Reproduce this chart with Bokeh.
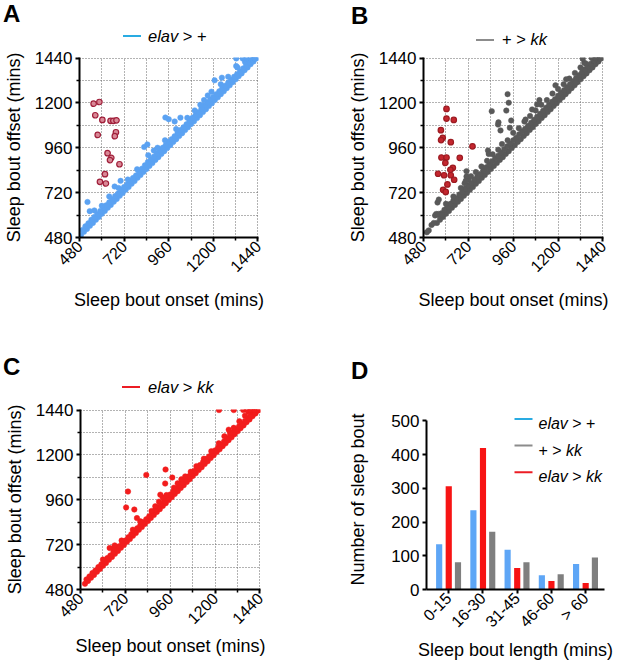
import math
from bokeh.plotting import figure
from bokeh.layouts import column, row
from bokeh.models import FixedTicker, Div
from bokeh.core.properties import value
from bokeh.embed import file_html
from bokeh.resources import INLINE

FONT = "Liberation Sans"

# ---------------- data (onset, offset) in minutes ----------------
a_band_low = [(488,494),(504,511),(520,526),(536,543),(552,558),(568,575),(584,590),(600,607),(616,622),(632,639),(648,654),(664,671),(680,686),(696,703),(712,718),(728,735),(744,750),(760,767),(776,782),(792,799),(808,814),(824,831),(840,846),(856,863),(872,878),(888,895),(904,910),(920,927),(936,942),(952,959),(968,974),(984,991),(1000,1006),(1016,1023),(1032,1038),(1048,1055),(1064,1070),(1080,1087),(1096,1102),(1112,1119),(1128,1134),(1144,1151),(1160,1166),(1176,1183),(1192,1198),(1208,1215),(1224,1230),(1240,1247),(1256,1262),(1272,1279),(1288,1294),(1304,1311),(1320,1326),(1336,1343),(1352,1358),(1368,1375),(1384,1390),(1400,1407),(1416,1422),(1432,1438)]
a_band_high = [(496,520),(512,540),(528,556),(544,575),(560,590),(576,606),(592,622),(608,640),(624,652),(640,668),(656,684),(672,702),(688,716),(704,735),(720,750),(736,764),(752,782),(768,798),(784,812),(800,830),(816,848),(832,866),(848,884),(864,898),(880,912),(896,930),(912,946),(928,960),(944,974),(960,992),(976,1006),(992,1022),(1008,1040),(1024,1055),(1040,1070),(1056,1086),(1072,1102),(1088,1120),(1104,1134),(1120,1150),(1136,1170),(1152,1188),(1168,1204),(1184,1218),(1200,1232),(1216,1246),(1232,1262),(1248,1278),(1264,1292),(1280,1308),(1296,1324),(1312,1340),(1328,1354),(1344,1368),(1360,1384),(1376,1400),(1392,1416),(1408,1430),(1424,1440)]
a_fringe = [(560,625),(600,650),(640,700),(690,745),(740,790),(790,845),(850,920),(880,945),(900,960),(940,1000),(1000,1060),(1060,1120),(1100,1160),(1130,1190),(1150,1215),(1170,1240),(1190,1260),(1240,1300),(1280,1340),(1330,1390),(1370,1420),(1400,1440),(1420,1440)]
a_outliers = [(523,670),(535,621),(701,783),(669,753),(828,964),(845,978),(942,1122),(960,1113),(992,1101),(1023,1121),(1207,1321),(1246,1335),(1323,1438),(1323,1397),(1358,1438),(1378,1440)]
a_red = [(556,1196),(587,1205),(565,1134),(603,1109),(647,1104),(662,1104),(679,1107),(578,1029),(676,1043),(670,1022),(631,931),(651,906),(644,894),(695,872),(617,819),(590,778),(622,769)]

b_band_low = [(552,558),(568,575),(584,590),(600,607),(616,622),(632,639),(648,654),(664,671),(680,686),(696,703),(712,718),(728,735),(744,750),(760,767),(776,782),(792,799),(808,814),(824,831),(840,846),(856,863),(872,878),(888,895),(904,910),(920,927),(936,942),(952,959),(968,974),(984,991),(1000,1006),(1016,1023),(1032,1038),(1048,1055),(1064,1070),(1080,1087),(1096,1102),(1112,1119),(1128,1134),(1144,1151),(1160,1166),(1176,1183),(1192,1198),(1208,1215),(1224,1230),(1240,1247),(1256,1262),(1272,1279),(1288,1294),(1304,1311),(1320,1326),(1336,1343),(1352,1358),(1368,1375),(1384,1390),(1400,1407),(1416,1422),(1432,1438)]
b_band_high = [(560,600),(576,610),(592,628),(608,645),(624,660),(640,678),(656,690),(672,710),(688,724),(704,742),(720,758),(736,772),(752,790),(768,806),(784,820),(800,838),(816,856),(832,870),(848,888),(864,904),(880,918),(896,934),(912,952),(928,968),(944,982),(960,1000),(976,1014),(992,1032),(1008,1048),(1024,1062),(1040,1078),(1056,1094),(1072,1110),(1088,1126),(1104,1142),(1120,1158),(1136,1174),(1152,1190),(1168,1206),(1184,1220),(1200,1238),(1216,1254),(1232,1268),(1248,1284),(1264,1300),(1280,1316),(1296,1332),(1312,1348),(1328,1364),(1344,1380),(1360,1396),(1376,1410),(1392,1424),(1408,1436),(1424,1440)]
b_fringe = [(600,660),(640,700),(680,745),(700,770),(720,790),(760,830),(790,860),(820,890),(850,925),(880,950),(900,980),(930,1000),(960,1040),(990,1065),(1020,1100),(1050,1130),(1080,1160),(1110,1190),(1140,1215),(1170,1250),(1200,1275),(1230,1300),(1260,1330),(1290,1360),(1320,1390),(1350,1410),(1380,1440),(1400,1440),(1186,1294),(1088,1192),(1100,1215),(1061,1165),(1026,1111),(1243,1326),(1340,1415),(1293,1308)]
b_outliers = [(498,508),(508,518),(523,547),(535,558),(542,598),(555,667),(562,683),(548,606),(559,606),(580,600),(710,835),(710,806),(706,783),(825,945),(829,927),(879,1084),(881,1096),(892,1053),(923,1159),(930,1247),(936,1201),(845,1156),(949,1106),(942,1067),(734,808),(1332,1436)]
b_red = [(603,1168),(603,1116),(642,1109),(573,1054),(583,1013),(574,1001),(626,990),(742,968),(576,908),(603,908),(674,906),(597,879),(637,853),(624,842),(558,821),(590,813),(626,813),(644,789),(608,764),(585,735),(599,724)]

c_band_low = [(504,511),(520,526),(536,543),(552,558),(568,575),(584,590),(600,607),(616,622),(632,639),(648,654),(664,671),(680,686),(696,703),(712,718),(728,735),(744,750),(760,767),(776,782),(792,799),(808,814),(824,831),(840,846),(856,863),(872,878),(888,895),(904,910),(920,927),(936,942),(952,959),(968,974),(984,991),(1000,1006),(1016,1023),(1032,1038),(1048,1055),(1064,1070),(1080,1087),(1096,1102),(1112,1119),(1128,1134),(1144,1151),(1160,1166),(1176,1183),(1192,1198),(1208,1215),(1224,1230),(1240,1247),(1256,1262),(1272,1279),(1288,1294),(1304,1311),(1320,1326),(1336,1343),(1352,1358),(1368,1375),(1384,1390),(1400,1407),(1416,1422),(1432,1438)]
c_band_high = [(512,534),(528,550),(544,568),(560,582),(576,600),(592,615),(608,632),(624,648),(640,662),(656,680),(672,694),(688,712),(704,728),(720,742),(736,760),(752,776),(768,790),(784,808),(800,824),(816,840),(832,856),(848,872),(864,890),(880,906),(896,922),(912,938),(928,954),(944,970),(960,988),(976,1004),(992,1020),(1008,1036),(1024,1052),(1040,1068),(1056,1084),(1072,1100),(1088,1114),(1104,1130),(1120,1146),(1136,1162),(1152,1178),(1168,1192),(1184,1208),(1200,1224),(1216,1240),(1232,1256),(1248,1272),(1264,1288),(1280,1304),(1296,1320),(1312,1336),(1328,1352),(1344,1366),(1360,1382),(1376,1398),(1392,1412),(1408,1428),(1424,1440)]
c_fringe = [(600,640),(660,700),(700,742),(760,800),(800,845),(860,900),(880,925),(900,950),(920,972),(940,985),(980,1025),(1000,1048),(1020,1070),(1040,1085),(1070,1110),(1100,1140),(1140,1180),(1180,1220),(1220,1262),(1250,1300),(1280,1320),(1300,1345),(1330,1380),(1360,1410),(1380,1430),(1400,1440)]
c_outliers = [(1221,1440),(1300,1440),(1351,1440),(1370,1440),(1390,1440),(1410,1440),(1273,1335),(832,1093),(935,1122),(933,1047),(971,1079),(734,1004),(724,919),(768,908),(782,862),(636,702),(663,716),(907,987)]

# bar chart
bout_bins = ["0-15", "16-30", "31-45", "46-60", "> 60"]
bouts_elav_plus = [134, 235, 118, 42, 76]
bouts_elav_kk = [306, 420, 64, 25, 19]
bouts_plus_kk = [81, 171, 81, 45, 95]

scatter_ticks = [480, 720, 960, 1200, 1440]
scatter_minor = [600, 840, 1080, 1320]
count_ticks = [0, 100, 200, 300, 400, 500]

BLUE_PTS = "#5ba2f2"
BLUE_LEG = "#29abe2"
GRAY_PTS = "#595959"
GRAY_LEG = "#8c8c8c"
RED_PTS = "#f21d1d"
RED_LEG = "#ec1c24"

# Arial / Liberation Sans advance widths (em) for legend text layout
CHAR_W = {"e": .556, "l": .222, "a": .556, "v": .5, " ": .278, ">": .584, "+": .584, "k": .5}


def text_w(s, size):
    return sum(CHAR_W.get(c, .556) for c in s) * size


def xs(pts):
    return [p[0] for p in pts]


def ys(pts):
    return [p[1] for p in pts]


def put_text(p, x, y, s, size, style="normal"):
    p.text(x=[x], y=[y], text=[s], text_font=value(FONT), text_font_size=value(f"{size}px"),
           text_font_style=value(style), text_baseline=value("alphabetic"),
           text_align=value("left"), text_color="black")


def put_legend(p, x_line, y_line, line_len, color, x_text, y_base, parts, size, sx=1.0):
    p.segment(x0=[x_line], y0=[y_line], x1=[x_line + line_len * sx], y1=[y_line],
              line_color=color, line_width=2, line_cap="butt")
    x = x_text
    for s, style in parts:
        put_text(p, x, y_base, s, size, style)
        x += text_w(s, size) * sx


def style_axis(ax, label_size="17px"):
    ax.axis_line_width = 2
    ax.axis_line_color = "black"
    ax.major_tick_line_width = 2
    ax.major_tick_line_color = "black"
    ax.major_tick_out = 4
    ax.major_tick_in = 0
    ax.minor_tick_line_width = 1.5
    ax.minor_tick_line_color = "black"
    ax.minor_tick_out = 3
    ax.minor_tick_in = 0
    ax.major_label_text_font = FONT
    ax.major_label_text_font_size = label_size
    ax.major_label_text_color = "black"
    ax.major_label_standoff = 3
    ax.axis_label_text_font = FONT
    ax.axis_label_text_font_size = "18px"
    ax.axis_label_text_font_style = "normal"
    ax.axis_label_text_color = "black"


# ---------- HTML header strips (panel letters and legends above the plots) ----------
PAGE_W = 617


def letter_html(ch, left, top):
    return (f'<span style="position:absolute;left:{left}px;top:{top}px;font-family:\'{FONT}\';'
            f'font-size:24px;font-weight:bold;line-height:24px;color:black">{ch}</span>')


def legend_html(left_line, top_line, color, left_text, top_text, inner):
    return (f'<span style="position:absolute;left:{left_line}px;top:{top_line}px;width:18px;'
            f'height:2px;background:{color}"></span>'
            f'<span style="position:absolute;left:{left_text}px;top:{top_text}px;font-family:\'{FONT}\';'
            f'font-size:16.5px;line-height:16.5px;white-space:pre;color:black">{inner}</span>')


def header_div(h, parts):
    html = (f'<div style="position:relative;width:{PAGE_W}px;height:{h}px;overflow:visible">'
            + "".join(parts) + "</div>")
    return Div(text=html, width=PAGE_W, height=h, margin=0)


h1 = header_div(46, [
    letter_html("A", 3, 2),
    legend_html(123, 35, BLUE_LEG, 148, 28, "<i>elav</i> &gt; +"),
    letter_html("B", 351, 4),
    legend_html(476, 39, GRAY_LEG, 502, 31, "+ &gt; <i>kk</i>"),
])
h2 = header_div(71, [
    letter_html("C", 3, 28),
    legend_html(122, 59, RED_LEG, 148, 52, "<i>elav</i> &gt; <i>kk</i>"),
    letter_html("D", 351, 32),
])


def make_scatter(groups, color, red_pts, red_fill, red_line, width, height, left, right, top, bottom,
                 title_standoff):
    p = figure(width=width, height=height, x_range=(480, 1443), y_range=(480, 1443),
               output_backend="svg", toolbar_location=None,
               min_border_left=left, min_border_right=right,
               min_border_top=top, min_border_bottom=bottom)
    p.outline_line_color = None
    for ax in (p.xaxis[0], p.yaxis[0]):
        ax.ticker = FixedTicker(ticks=scatter_ticks, minor_ticks=scatter_minor)
        style_axis(ax)
    p.xaxis.major_label_text_font_size = "16px"
    p.xaxis.major_label_standoff = 2
    p.xaxis.major_label_orientation = math.pi / 4
    p.xaxis.axis_label = "Sleep bout onset (mins)"
    p.yaxis.axis_label = "Sleep bout offset (mins)"
    p.xaxis.axis_label_standoff = title_standoff
    p.yaxis.axis_label_standoff = 8
    for g in (p.xgrid[0], p.ygrid[0]):
        g.grid_line_color = "#666666"
        g.grid_line_dash = "1 2"
        g.grid_line_width = 1
        g.minor_grid_line_color = "#666666"
        g.minor_grid_line_dash = "1 2"
        g.minor_grid_line_width = 1
    for pts in groups:
        p.scatter(xs(pts), ys(pts), size=5.5, fill_color=color, line_color=color, line_width=0.5)
    if red_pts:
        p.scatter(xs(red_pts), ys(red_pts), size=5.5, fill_color=red_fill, line_color=red_line,
                  line_width=1.2)
    return p


pA = make_scatter([a_band_low, a_band_high, a_fringe, a_outliers], BLUE_PTS,
                  a_red, "#d98896", "#a01f3a", 308, 281, 78, 50, 11, 90, 10)
pB = make_scatter([b_band_low, b_band_high, b_fringe, b_outliers], GRAY_PTS,
                  b_red, "#c4262e", "#9c1b22", 309, 281, 115, 14, 11, 90, 10)
pC = make_scatter([c_band_low, c_band_high, c_fringe, c_outliers], RED_PTS,
                  None, None, None, 308, 269, 80, 48, 11, 78, 4)

# ---------------- panel D ----------------
D_X0, D_X1, D_Y1 = -0.65, 4.55, 534
pD = figure(width=309, height=269, x_range=(D_X0, D_X1), y_range=(0, D_Y1),
            output_backend="svg", toolbar_location=None,
            min_border_left=118, min_border_right=13, min_border_top=5, min_border_bottom=76)
pD.outline_line_color = None
pD.xgrid.visible = False
pD.ygrid.visible = False
idx = list(range(len(bout_bins)))
pD.vbar(x=[i - 0.28 for i in idx], top=bouts_elav_plus, width=0.18, fill_color="#5ea6f6", line_color=None)
pD.vbar(x=[i for i in idx], top=bouts_elav_kk, width=0.18, fill_color="#f71414", line_color=None)
pD.vbar(x=[i + 0.27 for i in idx], top=bouts_plus_kk, width=0.18, fill_color="#7f7f7f", line_color=None)
style_axis(pD.xaxis[0], "16px")
style_axis(pD.yaxis[0])
pD.xaxis.major_label_standoff = 2
pD.xaxis.ticker = FixedTicker(ticks=idx)
pD.xaxis.major_label_overrides = {i: b for i, b in zip(idx, bout_bins)}
pD.xaxis.major_label_orientation = math.pi / 4
pD.yaxis.ticker = FixedTicker(ticks=count_ticks)
pD.yaxis.bounds = (0, 500)
pD.xaxis.axis_label = "Sleep bout length (mins)"
pD.yaxis.axis_label = "Number of sleep bout"
pD.xaxis.axis_label_standoff = 1
pD.yaxis.axis_label_standoff = 20

# legend of panel D drawn inside its frame (positions in the panel's own units)
sx = (D_X1 - D_X0) / 178.0  # x units per pixel
for (yl, col, parts) in [(506, BLUE_LEG, [("elav ", "italic"), ("> +", "normal")]),
                         (427, GRAY_LEG, [("+ > ", "normal"), ("kk", "italic")]),
                         (348, RED_LEG, [("elav ", "italic"), ("> ", "normal"), ("kk", "italic")])]:
    put_legend(pD, 1.921, yl, 18, col, 2.622, yl - 14, parts, 16, sx)

layout = column(h1, row(pA, pB), h2, row(pC, pD))
open("out.html", "w").write(file_html(layout, INLINE))
